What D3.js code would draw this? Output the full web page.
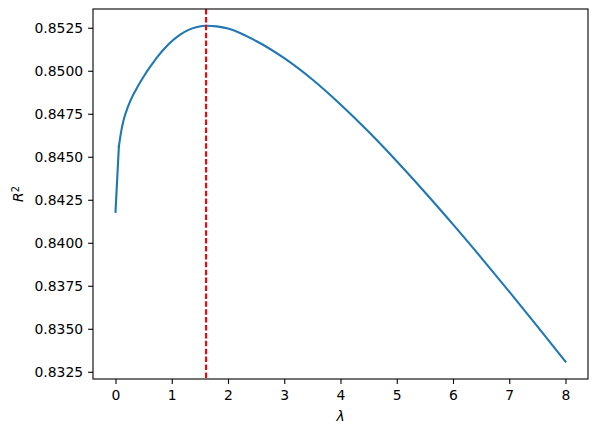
<!DOCTYPE html>
<html>
<head>
<meta charset="utf-8">
<script src="https://cdn.jsdelivr.net/npm/d3@7"></script>
<style>
  body { margin: 0; background: #fff; }
  text { font-family: "DejaVu Sans", sans-serif; }
</style>
</head>
<body>
<div id="chart"></div>
<script>
// values
var lambdas = [0, 0.06, 0.10, 0.14, 0.22, 0.29, 0.4, 0.53, 0.65, 0.76, 0.88, 1.0, 1.15, 1.29, 1.45, 1.62, 1.8, 2.0,
               2.5, 3.0, 3.5, 4.0, 4.5, 5.0, 5.5, 6.0, 6.5, 7.0, 7.5, 8.0];
var r2 = [0.84180, 0.84560, 0.84645, 0.84708, 0.84790, 0.84844, 0.84911, 0.84981, 0.85038, 0.85087, 0.85132, 0.85171,
          0.85210, 0.85236, 0.85254, 0.85262, 0.85258, 0.85246,
          0.85173, 0.85073, 0.84949, 0.84804, 0.84645, 0.84474, 0.84294, 0.84107, 0.83914, 0.83716, 0.83514, 0.83309];
var bestLambda = 1.61;
var xTicks = [0, 1, 2, 3, 4, 5, 6, 7, 8];
var yTicks = [0.8325, 0.8350, 0.8375, 0.8400, 0.8425, 0.8450, 0.8475, 0.8500, 0.8525];

var data = lambdas.map(function(l, i) { return {x: l, y: r2[i]}; });

var W = 598, H = 433;
var mLeft = 93, mRight = 588, mTop = 9, mBottom = 379;
var fs = 13.9;

var svg = d3.select("#chart").append("svg")
  .attr("width", W)
  .attr("height", H);

var x = d3.scaleLinear().domain([-0.4, 8.4]).range([mLeft, mRight]);
var y = d3.scaleLinear().domain([0.83208, 0.85359]).range([mBottom, mTop]);

// x axis
var xAxis = svg.append("g")
  .attr("transform", "translate(0," + mBottom + ")")
  .call(d3.axisBottom(x).tickValues(xTicks).tickFormat(d3.format("d"))
    .tickSize(4.9).tickPadding(6).tickSizeOuter(0));

// y axis
var yAxis = svg.append("g")
  .attr("transform", "translate(" + mLeft + ",0)")
  .call(d3.axisLeft(y).tickValues(yTicks).tickFormat(d3.format(".4f"))
    .tickSize(4.9).tickPadding(5).tickSizeOuter(0));

[xAxis, yAxis].forEach(function(a) {
  a.select(".domain").remove();
  a.selectAll("line").attr("stroke", "#000").attr("stroke-width", 1.1);
  a.selectAll("text").attr("fill", "#000").style("font-size", fs + "px")
    .style("font-family", "DejaVu Sans");
});
yAxis.selectAll("text").attr("dy", "0.36em");

// curve: straight first step, smooth afterwards
var lineLin = d3.line()
  .x(function(d) { return x(d.x); })
  .y(function(d) { return y(d.y); });
var lineSmooth = d3.line()
  .x(function(d) { return x(d.x); })
  .y(function(d) { return y(d.y); })
  .curve(d3.curveMonotoneX);

var g = svg.append("g")
  .attr("fill", "none")
  .attr("stroke", "#1f77b4")
  .attr("stroke-width", 2.1)
  .attr("stroke-linecap", "square")
  .attr("stroke-linejoin", "round");
g.append("path").datum(data.slice(0, 2)).attr("d", lineLin);
g.append("path").datum(data.slice(1)).attr("d", lineSmooth);

// best lambda marker
svg.append("line")
  .attr("x1", x(bestLambda)).attr("x2", x(bestLambda))
  .attr("y1", mTop).attr("y2", mBottom)
  .attr("stroke", "red")
  .attr("stroke-width", 2.1)
  .attr("stroke-dasharray", "5.5,2.4");

// frame
svg.append("rect")
  .attr("x", mLeft).attr("y", mTop)
  .attr("width", mRight - mLeft).attr("height", mBottom - mTop)
  .attr("fill", "none")
  .attr("stroke", "#000")
  .attr("stroke-width", 1.1);

// axis labels
svg.append("text")
  .attr("x", (mLeft + mRight) / 2)
  .attr("y", 421)
  .attr("text-anchor", "middle")
  .style("font-size", fs + "px")
  .style("font-style", "italic")
  .text("λ");

var yl = svg.append("text")
  .attr("transform", "translate(23," + ((mTop + mBottom) / 2) + ") rotate(-90)")
  .attr("text-anchor", "middle")
  .style("font-size", fs + "px");
yl.append("tspan").style("font-style", "italic").text("R");
yl.append("tspan").attr("dy", "-0.45em").style("font-size", (fs * 0.7) + "px").text("2");
</script>
</body>
</html>
